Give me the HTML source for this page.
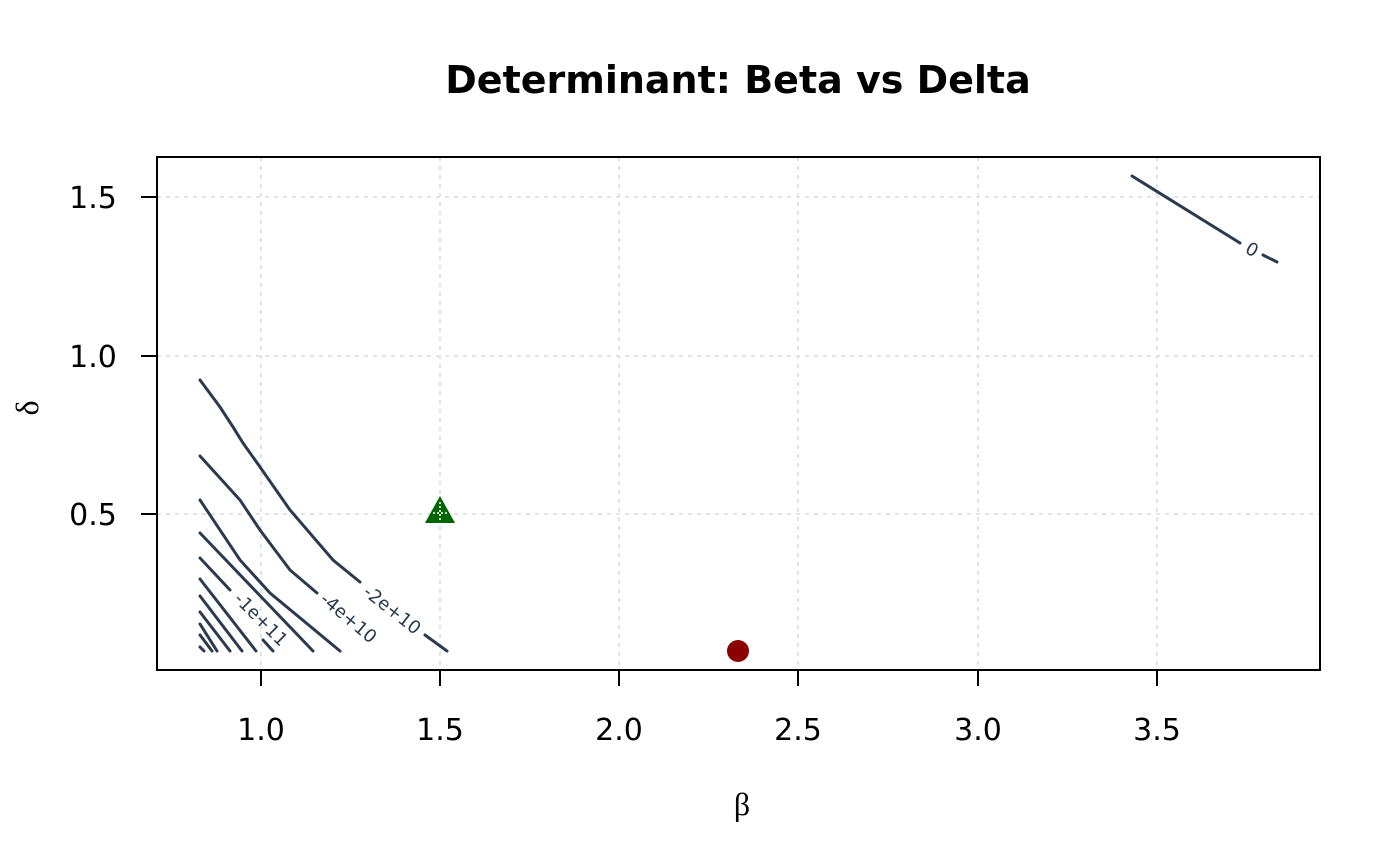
<!DOCTYPE html>
<html><head><meta charset="utf-8"><style>
html,body{margin:0;padding:0;background:#fff;}
svg{display:block;}
text{font-family:"DejaVu Sans","Liberation Sans",sans-serif;}
</style></head><body>
<svg width="1400" height="866" viewBox="0 0 1400 866" xmlns="http://www.w3.org/2000/svg">
<rect width="1400" height="866" fill="#fff"/>
<text x="738" y="93" font-size="38" font-weight="bold" text-anchor="middle">Determinant: Beta vs Delta</text>
<g stroke="#e3e3e3" stroke-width="2" stroke-dasharray="4,5">
<line x1="261" y1="157" x2="261" y2="670"/><line x1="440" y1="157" x2="440" y2="670"/>
<line x1="619" y1="157" x2="619" y2="670"/><line x1="798" y1="157" x2="798" y2="670"/>
<line x1="978" y1="157" x2="978" y2="670"/><line x1="1157" y1="157" x2="1157" y2="670"/>
<line x1="157" y1="197" x2="1320" y2="197"/><line x1="157" y1="356" x2="1320" y2="356"/>
<line x1="157" y1="514" x2="1320" y2="514"/>
</g>
<g fill="none" stroke="#2b3a4f" stroke-width="3" stroke-linecap="round">
<polyline points="200,380 220,407 233,427 243,443 260,467 290,510 333,560 360,582"/>
<line x1="425" y1="635" x2="447" y2="651"/>
<polyline points="200,456 240,500 260,530 290,570 317,593"/>
<polyline points="200,500 240,560 270,593 340,651"/>
<polyline points="200,533 313,651"/>
<polyline points="200,558 230,590"/>
<polyline points="263,640 273,651"/>
<polyline points="200,579 256,651"/>
<polyline points="200,596 242,651"/>
<polyline points="200,612 230,651"/>
<polyline points="200,624 217,651"/>
<polyline points="200,635 212,651"/>
<polyline points="200,647 204,651"/>
<polyline points="1132,176 1240,243"/>
<line x1="1263" y1="255" x2="1277" y2="262"/>
</g>
<g fill="#2b3a4f" font-size="18">
<text transform="translate(362,594) rotate(38)">-2e+10</text>
<text transform="translate(319,601) rotate(40)">-4e+10</text>
<text transform="translate(233,600) rotate(45)">-1e+11</text>
<text transform="translate(1244,252) rotate(30)">0</text>
</g>
<polygon points="440,496 425,523 455,523" fill="#006400"/>
<g stroke="#fff" stroke-width="1.5" stroke-dasharray="2,2"><line x1="440" y1="502" x2="440" y2="521"/><line x1="433" y1="513" x2="447" y2="513"/></g>
<circle cx="738" cy="651" r="11" fill="#8b0000"/>
<rect x="157" y="157" width="1163" height="513" fill="none" stroke="#000" stroke-width="2"/>
<g stroke="#000" stroke-width="2">
<line x1="261" y1="670" x2="261" y2="686"/><line x1="440" y1="670" x2="440" y2="686"/>
<line x1="619" y1="670" x2="619" y2="686"/><line x1="798" y1="670" x2="798" y2="686"/>
<line x1="978" y1="670" x2="978" y2="686"/><line x1="1157" y1="670" x2="1157" y2="686"/>
<line x1="141" y1="197" x2="157" y2="197"/><line x1="141" y1="356" x2="157" y2="356"/>
<line x1="141" y1="514" x2="157" y2="514"/>
</g>
<g font-size="30" text-anchor="middle">
<text x="261" y="740">1.0</text><text x="440" y="740">1.5</text><text x="619" y="740">2.0</text>
<text x="798" y="740">2.5</text><text x="978" y="740">3.0</text><text x="1157" y="740">3.5</text>
<text x="93" y="208">1.5</text><text x="93" y="367">1.0</text><text x="93" y="525">0.5</text>
</g>
<text x="742" y="815" font-size="32" text-anchor="middle" style="font-family:'Liberation Serif',serif">β</text>
<text transform="translate(38,408) rotate(-90)" font-size="32" text-anchor="middle" style="font-family:'Liberation Serif',serif">δ</text>
</svg>
</body></html>
